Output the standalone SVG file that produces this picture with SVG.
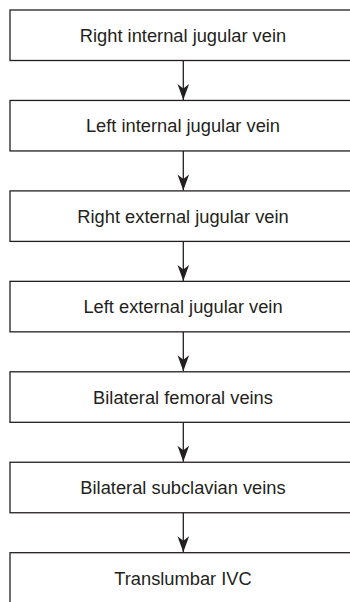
<svg xmlns="http://www.w3.org/2000/svg" width="350" height="602" viewBox="0 0 350 602">
<defs>
<style>
.box{fill:#fff;stroke:#231f20;stroke-width:1.3}
.lbl{font-family:"Liberation Sans",Arial,Helvetica,sans-serif;font-size:18.3px;fill:#231f20;text-anchor:middle}
.conn{stroke:#231f20;stroke-width:1.3;fill:none}
</style>
<marker id="ah" markerUnits="userSpaceOnUse" markerWidth="18" markerHeight="14" viewBox="-17 -7 18 14" refX="0" refY="0" orient="auto">
<path d="M0,0 L-16,-5.8 L-11.5,0 L-16,5.8 Z" fill="#231f20"/>
</marker>
</defs>
<rect width="350" height="602" fill="#fff"/>
<g id="connectors">
<line class="conn" x1="183.3" y1="60.5" x2="183.3" y2="100" marker-end="url(#ah)"/>
<line class="conn" x1="183.3" y1="150.95" x2="183.3" y2="190.45" marker-end="url(#ah)"/>
<line class="conn" x1="183.3" y1="241.4" x2="183.3" y2="280.9" marker-end="url(#ah)"/>
<line class="conn" x1="183.3" y1="331.85" x2="183.3" y2="371.35" marker-end="url(#ah)"/>
<line class="conn" x1="183.3" y1="422.3" x2="183.3" y2="461.8" marker-end="url(#ah)"/>
<line class="conn" x1="183.3" y1="512.75" x2="183.3" y2="552.25" marker-end="url(#ah)"/>
</g>
<g id="n1"><rect class="box" x="10" y="10" width="350" height="50.5"/><text class="lbl" x="183" y="41.8">Right internal jugular vein</text></g>
<g id="n2"><rect class="box" x="10" y="100.45" width="350" height="50.5"/><text class="lbl" x="183" y="132.2">Left internal jugular vein</text></g>
<g id="n3"><rect class="box" x="10" y="190.9" width="350" height="50.5"/><text class="lbl" x="183" y="222.7">Right external jugular vein</text></g>
<g id="n4"><rect class="box" x="10" y="281.35" width="350" height="50.5"/><text class="lbl" x="183" y="313.1">Left external jugular vein</text></g>
<g id="n5"><rect class="box" x="10" y="371.8" width="350" height="50.5"/><text class="lbl" x="183" y="403.6">Bilateral femoral veins</text></g>
<g id="n6"><rect class="box" x="10" y="462.25" width="350" height="50.5"/><text class="lbl" x="183" y="494">Bilateral subclavian veins</text></g>
<g id="n7"><rect class="box" x="10" y="552.7" width="350" height="50.5"/><text class="lbl" x="183" y="584.5">Translumbar IVC</text></g>
</svg>
